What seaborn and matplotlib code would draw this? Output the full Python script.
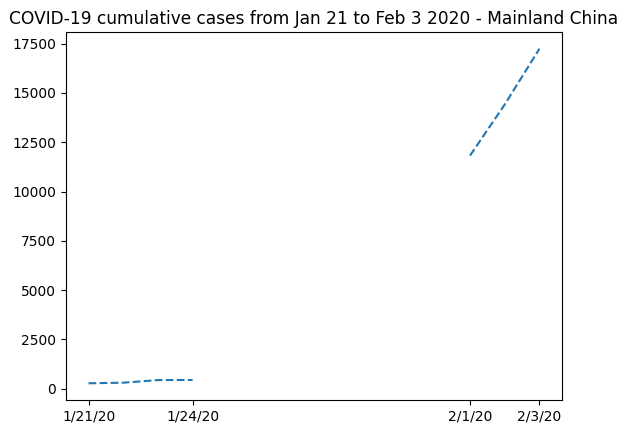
import matplotlib
matplotlib.use("Agg")
import matplotlib.pyplot as plt
import pandas as pd
import seaborn as sns

# cumulative confirmed cases, Mainland China
dates_jan = ["2020-01-21", "2020-01-22", "2020-01-23", "2020-01-24"]
cases_jan = [278, 309, 440, 446]
dates_feb = ["2020-02-01", "2020-02-02", "2020-02-03"]
cases_feb = [11821, 14411, 17238]
tick_dates = ["2020-01-21", "2020-01-24", "2020-02-01", "2020-02-03"]
tick_labels = ["1/21/20", "1/24/20", "2/1/20", "2/3/20"]

jan = pd.DataFrame({"date": pd.to_datetime(dates_jan), "cases": cases_jan})
feb = pd.DataFrame({"date": pd.to_datetime(dates_feb), "cases": cases_feb})

fig, ax = plt.subplots(figsize=(6.27, 4.34), dpi=100)
fig.subplots_adjust(left=0.1053, right=0.8963, bottom=0.0783, top=0.9263)

sns.lineplot(data=jan, x="date", y="cases", ax=ax, color="C0", linestyle="--")
sns.lineplot(data=feb, x="date", y="cases", ax=ax, color="C0", linestyle="--")

ax.set_xticks(pd.to_datetime(tick_dates))
ax.set_xticklabels(tick_labels)
ax.set_xlabel("")
ax.set_ylabel("")
ax.set_title("COVID-19 cumulative cases from Jan 21 to Feb 3 2020 - Mainland China",
             fontsize=12.25)

fig.savefig("out.png", dpi=100)
